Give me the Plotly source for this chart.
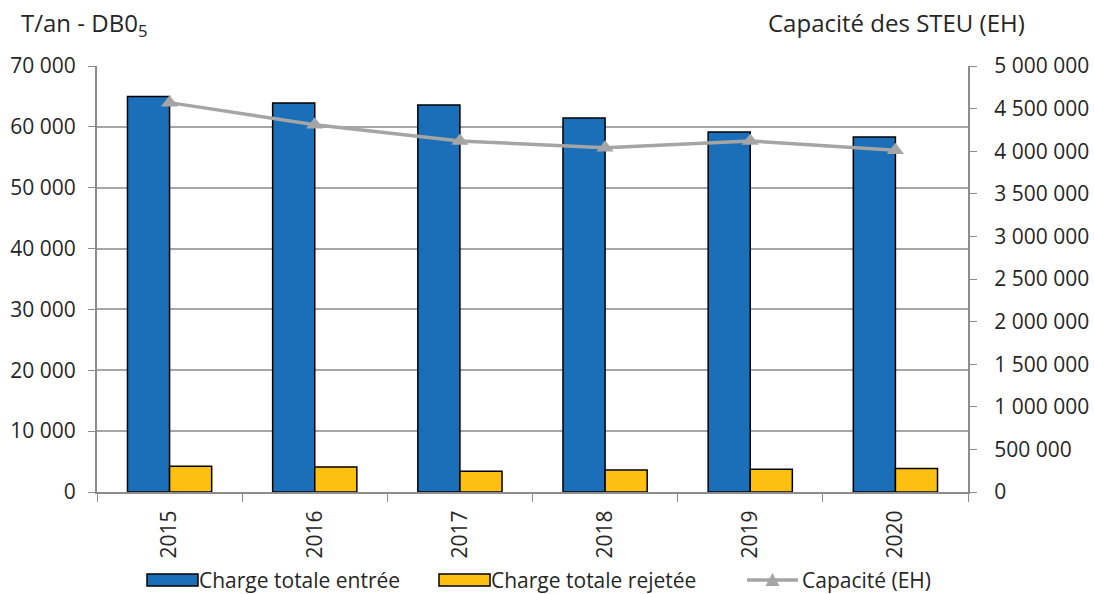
import plotly.graph_objects as go

years = ["2015", "2016", "2017", "2018", "2019", "2020"]
charge_entree = [65000, 63900, 63600, 61450, 59150, 58350]
charge_rejetee = [4250, 4100, 3400, 3600, 3750, 3850]
capacite = [4570000, 4310000, 4120000, 4040000, 4120000, 4010000]

left_ticks = list(range(0, 70001, 10000))
right_ticks = list(range(0, 5000001, 500000))

def fmt(v):
    return f"{v:,}".replace(",", " ")

FONT = "Open Sans"
AXC = "#8c8c8c"
BLUE = "#1B6FB8"
YELLOW = "#FDC010"
GRAY = "#A5A5A5"
TXT = "#262626"
W, H = 1094, 594
ML, MR, MT, MB = 97, 126, 66, 102
PW, PH = W - ML - MR, H - MT - MB

fig = go.Figure()
fig.add_trace(go.Bar(x=years, y=charge_entree, name="Charge totale entrée",
                     marker=dict(color=BLUE, line=dict(color="black", width=1.5))))
fig.add_trace(go.Bar(x=years, y=charge_rejetee, name="Charge totale rejetée",
                     marker=dict(color=YELLOW, line=dict(color="black", width=1.5))))
fig.add_trace(go.Scatter(x=years, y=capacite, name="Capacité (EH)", yaxis="y2",
                         mode="lines+markers",
                         line=dict(color=GRAY, width=3.5),
                         marker=dict(symbol="triangle-up", size=15, color=GRAY)))

# manual legend: pixel positions converted to plot-area (paper) fractions
def px(x):
    return (x - ML) / PW

def py(y):
    return (H - MB - y) / PH

shapes = []
annotations = []
legend_items = [
    ("rect", BLUE, 147, "Charge totale entrée"),
    ("rect", YELLOW, 439, "Charge totale rejetée"),
    ("line", GRAY, 747, "Capacité (EH)"),
]
ly = 580
for kind, col, x0, label in legend_items:
    if kind == "rect":
        shapes.append(dict(type="rect", xref="paper", yref="paper", layer="above",
                           x0=px(x0), x1=px(x0 + 51), y0=py(ly - 6), y1=py(ly + 6),
                           fillcolor=col, line=dict(color="black", width=1.5)))
        tx = x0 + 50
    else:
        shapes.append(dict(type="line", xref="paper", yref="paper", layer="above",
                           x0=px(x0), x1=px(x0 + 51), y0=py(ly), y1=py(ly),
                           line=dict(color=col, width=3.5)))
        cx = x0 + 25.5
        path = (f"M {px(cx - 7)} {py(ly + 6)} L {px(cx + 7)} {py(ly + 6)} "
                f"L {px(cx)} {py(ly - 7)} Z")
        shapes.append(dict(type="path", xref="paper", yref="paper", layer="above",
                           path=path, fillcolor=col, line=dict(color=col, width=0)))
        tx = x0 + 53
    annotations.append(dict(text=label, xref="paper", yref="paper", x=px(tx), y=py(ly),
                            xanchor="left", yanchor="middle", showarrow=False,
                            font=dict(size=21, family=FONT, color=TXT)))

annotations += [
    dict(text="T/an - DB0<sub>5</sub>", xref="paper", yref="paper", x=px(19), y=py(24),
         xanchor="left", yanchor="middle", showarrow=False,
         font=dict(size=24, family=FONT, color=TXT)),
    dict(text="Capacité des STEU (EH)", xref="paper", yref="paper", x=px(1027), y=py(23),
         xanchor="right", yanchor="middle", showarrow=False,
         font=dict(size=24, family=FONT, color=TXT)),
]

fig.update_layout(
    width=W, height=H,
    margin=dict(l=ML, r=MR, t=MT, b=MB, autoexpand=False),
    paper_bgcolor="white", plot_bgcolor="white",
    font=dict(family=FONT, size=21, color=TXT),
    barmode="group", bargap=0.42, bargroupgap=0,
    showlegend=False,
    xaxis=dict(type="category", tickangle=-90, showline=True, linecolor=AXC, linewidth=2,
               ticks="outside", tickson="boundaries", ticklen=8, tickcolor=AXC,
               showgrid=False, automargin=False, tickfont=dict(size=21),
               ticklabelstandoff=8),
    yaxis=dict(range=[0, 70000], tickvals=left_ticks, ticktext=[fmt(v) for v in left_ticks],
               showline=True, linecolor=AXC, linewidth=2, ticks="outside", ticklen=7,
               tickcolor=AXC, showgrid=True, gridcolor="#a6a6a6", gridwidth=1.5,
               zeroline=False, automargin=False, tickfont=dict(size=21),
               ticklabelstandoff=8),
    yaxis2=dict(range=[0, 5000000], tickvals=right_ticks, ticktext=[fmt(v) for v in right_ticks],
                overlaying="y", side="right", showline=True, linecolor=AXC, linewidth=2,
                ticks="outside", ticklen=7, tickcolor=AXC, showgrid=False, zeroline=False,
                automargin=False, tickfont=dict(size=21), ticklabelstandoff=13),
    shapes=shapes,
    annotations=annotations,
)
fig.write_html("out.html")
